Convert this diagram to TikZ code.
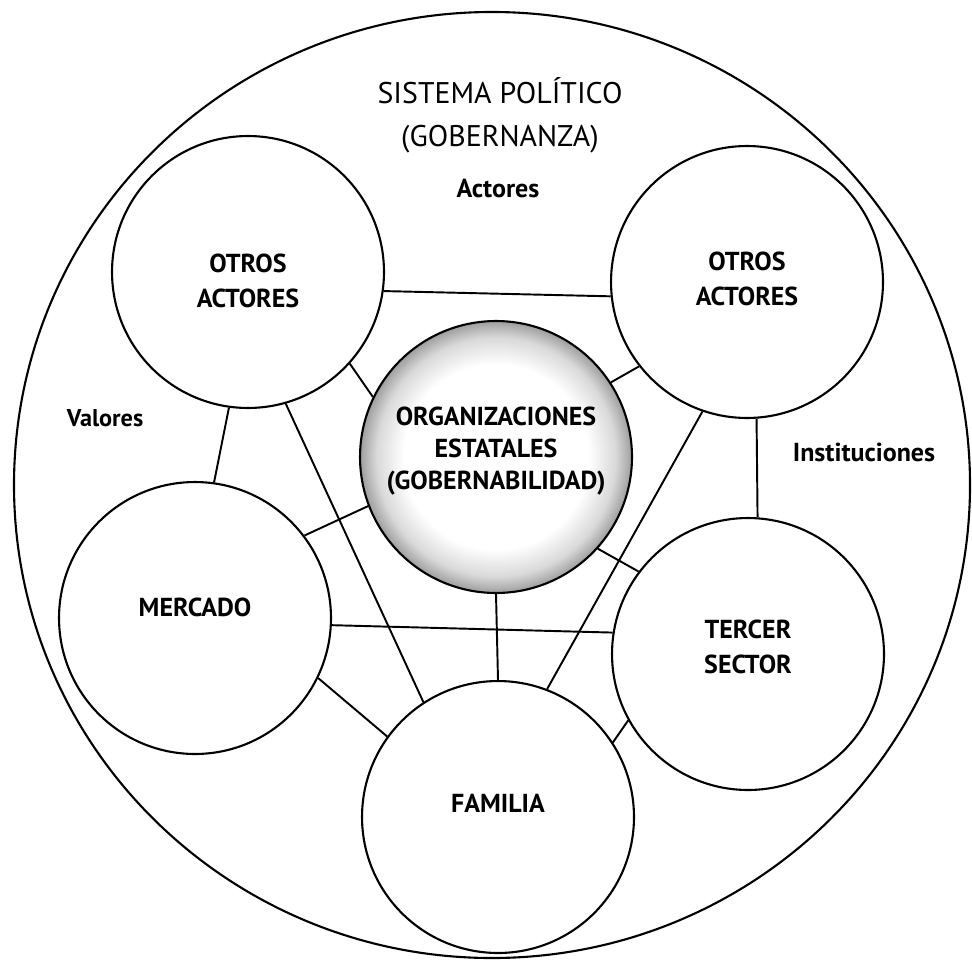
\documentclass[tikz,border=0pt]{standalone}
\usepackage{fontspec}
\setmainfont{PT Sans}
\usetikzlibrary{shadings}

% soft grey rim for the central circle
\pgfdeclareradialshading{rimshade}{\pgfpoint{0bp}{0bp}}{%
  color(0bp)=(white); color(17bp)=(white); color(22bp)=(black!15);
  color(25bp)=(black!38); color(50bp)=(black!38)}

\begin{document}
\begin{tikzpicture}[x=0.02cm, y=-0.02cm,
    actor/.style={circle, draw, line width=1.2pt, fill=white,
      minimum size=5.44cm, inner sep=0pt},
    core/.style={actor, shading=rimshade},
    caption/.style={align=center, inner sep=0pt,
      font=\fontsize{14.8}{19.5}\selectfont\bfseries},
    link/.style={line width=1.1pt},
    tag/.style={font=\fontsize{14.8}{17}\selectfont\bfseries}]
  \useasboundingbox (0,0) rectangle (972,963);

  % enclosing political system
  \draw[line width=1.2pt] (492,485) ellipse [x radius=478, y radius=473];
  \node[align=center, font=\fontsize{17}{24.4}\selectfont] (sis) at (500,115)
    {SISTEMA POLÍTICO\\(GOBERNANZA)};
  \node[tag] (act) at (498,189) {Actores};
  \node[tag, font=\fontsize{13.8}{16}\selectfont\bfseries] (val) at (105,418) {Valores};
  \node[tag] (ins) at (864,452) {Instituciones};

  % actors, each caption placed on its circle
  \node[actor, label={[caption, name=tlt, yshift=-9*0.02cm]center:OTROS\\ACTORES}]
    (tl) at (248,272) {};
  \node[actor, label={[caption, name=trt, yshift=3*0.02cm]center:OTROS\\ACTORES}]
    (tr) at (747,282) {};
  \node[core, label={[caption, name=cet, yshift=6*0.02cm,
      font=\fontsize{14.8}{18.2}\selectfont\bfseries]center:ORGANIZACIONES\\ESTATALES\\(GOBERNABILIDAD)}]
    (ce) at (496,457) {};
  \node[actor, label={[caption, name=met, yshift=11*0.02cm]center:MERCADO}]
    (me) at (195,618) {};
  \node[actor, label={[caption, name=tet, yshift=7*0.02cm]center:TERCER\\SECTOR}]
    (te) at (748,654) {};
  \node[actor, label={[caption, name=fat, yshift=14*0.02cm]center:FAMILIA}]
    (fa) at (498,817) {};

  % relations
  \draw[link] (tl.-8.8)  -- (tr.186.3);
  \draw[link] (tl.-42.4) -- (ce.154.9);
  \draw[link] (tr.218)   -- (ce.33.3);
  \draw[link] (tl.-98.7) -- (me.82.8);
  \draw[link] (tl.-74.8) -- (fa.123.8);
  \draw[link] (ce.201.2) -- (me.37.8);
  \draw[link] (ce.-90)   -- (fa.90);
  \draw[link] (ce.-42.6) -- (te.143.5);
  \draw[link] (tr.-86.2) -- (te.86.6);
  \draw[link] (tr.-109.7) -- (fa.69.3);
  \draw[link] (me.-3.8)  -- (te.171.2);
  \draw[link] (me.-26.4) -- (fa.144.3);
  \draw[link] (te.209.9) -- (fa.33.8);
\end{tikzpicture}
\end{document}
